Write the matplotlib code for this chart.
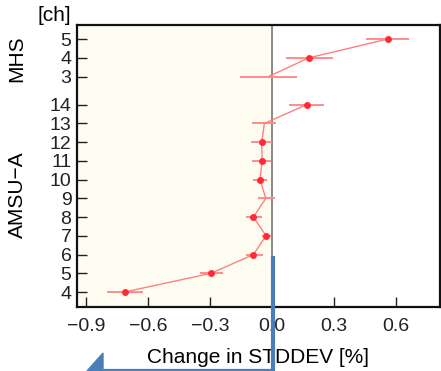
import numpy as np
import matplotlib
matplotlib.use("Agg")
from matplotlib import pyplot as plt
from matplotlib.lines import Line2D
from matplotlib.patches import Polygon

plt.rcParams['font.family'] = ['Liberation Sans', 'DejaVu Sans']

# AMSU-A channels 4..14
amsu_ch = [4, 5, 6, 7, 8, 9, 10, 11, 12, 13, 14]
amsu_val = [-0.714, -0.295, -0.09, -0.029, -0.09, -0.03, -0.058, -0.048, -0.05, -0.037, 0.168]
amsu_lo = [-0.80, -0.348, -0.127, -0.05, -0.127, -0.066, -0.093, -0.095, -0.103, -0.097, 0.082]
amsu_hi = [-0.626, -0.239, -0.042, -0.006, -0.047, 0.015, -0.023, -0.005, -0.002, 0.019, 0.253]

# MHS channels 3..5
mhs_ch = [3, 4, 5]
mhs_val = [-0.017, 0.179, 0.56]
mhs_lo = [-0.155, 0.068, 0.455]
mhs_hi = [0.121, 0.294, 0.663]

xticks = [-0.9, -0.6, -0.3, 0.0, 0.3, 0.6]
xlabels = ["\u22120.9", "\u22120.6", "\u22120.3", "0.0", "0.3", "0.6"]

# vertical positions: AMSU-A at 0..10, gap, MHS at 11.5..13.5
amsu_y = [c - 4 for c in amsu_ch]
mhs_y = [c - 3 + 11.5 for c in mhs_ch]

fig = plt.figure(figsize=(4.41, 3.71), dpi=100)
ax = fig.add_axes([0.1746, 0.1725, 0.8231, 0.7601])

xmin, xmax = -0.944, 0.813
ymin, ymax = -0.8, 14.25
ax.axvspan(xmin, 0, color="#fffcf2", zorder=0)
ax.axvline(0, color="#808080", lw=1.3, zorder=1)

for ys, v, lo, hi in [(amsu_y, amsu_val, amsu_lo, amsu_hi),
                      (mhs_y, mhs_val, mhs_lo, mhs_hi)]:
    v = np.array(v); lo = np.array(lo); hi = np.array(hi); ys = np.array(ys)
    ax.hlines(ys, lo, hi, color="#ff8c8c", lw=1.4, zorder=2)
    ax.plot(v, ys, color="#ff8080", lw=1.0, zorder=3)
    sig = (lo > 0) | (hi < 0)
    ax.plot(v[sig], ys[sig], "o", color="#ff2a36", ms=5, mec="none", zorder=4)

ax.set_xlim(xmin, xmax)
ax.set_ylim(ymin, ymax)
ax.set_xticks(xticks)
ax.set_xticklabels(xlabels)
ax.set_yticks(amsu_y + mhs_y)
ax.set_yticklabels([str(c) for c in amsu_ch + mhs_ch])
ax.tick_params(axis="both", direction="in", length=7, width=1, labelsize=14, colors="#222222")
ax.tick_params(axis="y", pad=4)
ax.tick_params(axis="x", pad=8)
for s in ax.spines.values():
    s.set_linewidth(1.6)
    s.set_color("#111111")

ax.set_xlabel("Change in STDDEV [%]", fontsize=15, labelpad=9)
ax.text(-0.015, 1.0, "[ch]", transform=ax.transAxes, ha="right", va="bottom", fontsize=15)
ax.text(-0.165, 12.45, "MHS", transform=ax.get_yaxis_transform(), rotation=90,
        ha="center", va="center", fontsize=15)
ax.text(-0.165, 5.2, "AMSU\u2212A", transform=ax.get_yaxis_transform(), rotation=90,
        ha="center", va="center", fontsize=15)

# blue connector overlay at the bottom
W, H = 441.0, 371.0
blue = "#4a7ebb"
fig.add_artist(Line2D([273 / W, 273 / W], [1 - 258 / H, 0], color=blue, lw=3))
fig.add_artist(Line2D([102 / W, 273 / W], [1 - 369.5 / H, 1 - 369.5 / H], color=blue, lw=1.6))
fig.add_artist(Polygon([[87 / W, 0], [103 / W, 1 - 353 / H], [103 / W, 0]],
                       closed=True, color=blue, transform=fig.transFigure))

fig.savefig("out.png", dpi=100)
